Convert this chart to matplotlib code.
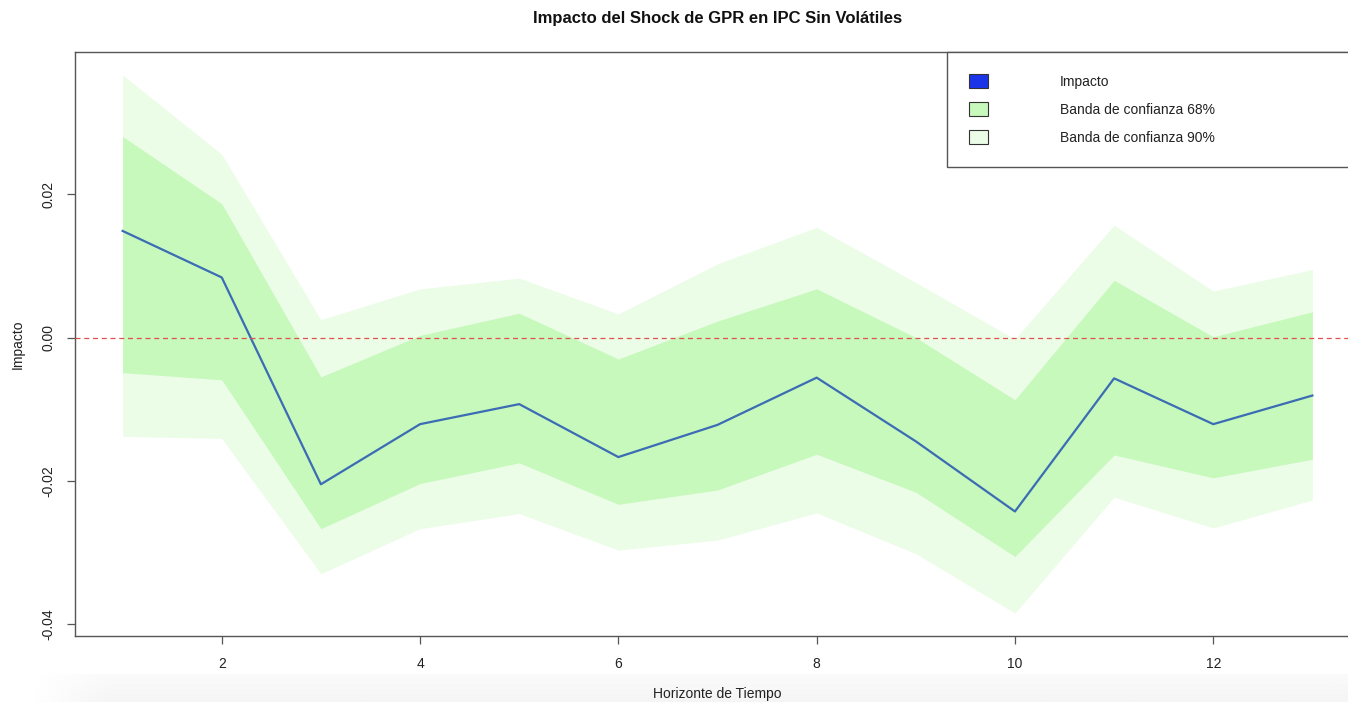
import matplotlib
matplotlib.use("Agg")
import matplotlib.pyplot as plt
import numpy as np
from matplotlib.patches import Patch
from matplotlib.ticker import FormatStrFormatter

plt.rcParams['font.family'] = ['Liberation Sans', 'DejaVu Sans']

# ---- data ----
horizonte = [1, 2, 3, 4, 5, 6, 7, 8, 9, 10, 11, 12, 13]
impacto = [0.0149, 0.0084, -0.0205, -0.0121, -0.0093, -0.0167, -0.0122,
           -0.0056, -0.0145, -0.0243, -0.0057, -0.0121, -0.0081]
sup68 = [0.0281, 0.0187, -0.0055, 0.0003, 0.0034, -0.0030, 0.0023,
         0.0068, 0.0000, -0.0087, 0.0080, 0.0001, 0.0036]
inf68 = [-0.0049, -0.0059, -0.0267, -0.0204, -0.0175, -0.0233, -0.0213,
         -0.0163, -0.0216, -0.0306, -0.0164, -0.0196, -0.0170]
sup90 = [0.0367, 0.0256, 0.0025, 0.0068, 0.0083, 0.0033, 0.0103,
         0.0154, 0.0077, -0.0002, 0.0157, 0.0065, 0.0095]
inf90 = [-0.0138, -0.0141, -0.0330, -0.0267, -0.0246, -0.0297, -0.0283,
         -0.0245, -0.0302, -0.0385, -0.0223, -0.0266, -0.0227]
xticks = [2, 4, 6, 8, 10, 12]
yticks = [-0.04, -0.02, 0.00, 0.02]
legend_labels = ["Impacto", "Banda de confianza 68%", "Banda de confianza 90%"]

col_line = "#3b6cb4"
col_68 = "#c7f8bc"
col_90 = "#ebfde7"
col_leg_imp = "#1a35e8"
spine_col = "#555555"

W, H = 1348, 702
fig = plt.figure(figsize=(W / 100, H / 100), dpi=100)

# faint grey band at the bottom (screenshot artefact)
bg = fig.add_axes([0, 0, 1, 28 / H], zorder=-10)
gy = np.linspace(0, 1, 30)[:, None]
gx = np.clip((np.linspace(0, 1, 400)[None, :] - 0.02) / 0.06, 0, 1)
grad = 1 - 0.04 * gx * (0.5 + 0.5 * gy)
bg.imshow(grad, cmap="gray", vmin=0, vmax=1, aspect="auto", origin="upper",
          extent=[0, 1, 0, 1])
bg.axis("off")

ax = fig.add_axes([75 / W, (H - 636) / H, (1360 - 75) / W, 584 / H])

ax.fill_between(horizonte, inf90, sup90, color=col_90, linewidth=0, zorder=1)
ax.fill_between(horizonte, inf68, sup68, color=col_68, linewidth=0, zorder=2)
ax.plot(horizonte, impacto, color=col_line, linewidth=1.6, zorder=3)
ax.axhline(0, color="#e0504f", linewidth=0.9, dashes=(4, 3), zorder=4)

ax.set_xlim(0.52, 13.48)
ax.set_ylim(-0.0417, 0.0399)
ax.set_xticks(xticks)
ax.set_yticks(yticks)
ax.yaxis.set_major_formatter(FormatStrFormatter('%.2f'))
ax.tick_params(axis="both", direction="out", length=6, width=0.9,
               color=spine_col, labelsize=10, labelcolor="#222222")
ax.tick_params(axis="x", pad=9)
ax.tick_params(axis="y", pad=8)
for lab in ax.get_yticklabels():
    lab.set_rotation(90)
    lab.set_va("center")
for s in ax.spines.values():
    s.set_color(spine_col)
    s.set_linewidth(1.0)

ax.set_title("Impacto del Shock de GPR en IPC Sin Volátiles", fontsize=12,
             fontweight="bold", y=1 + (52 - 19) / 584, va="center", pad=0,
             color="#111111")
ax.set_ylabel("Impacto", fontsize=10, va="center", color="#222222")
ax.yaxis.set_label_coords((18 - 75) / 1285, 0.5)
ax.set_xlabel("Horizonte de Tiempo", fontsize=10, va="center", color="#222222")
ax.xaxis.set_label_coords(0.5, (636 - 694) / 584)

handles = [Patch(facecolor=col_leg_imp, edgecolor="#333333", linewidth=0.8),
           Patch(facecolor=col_68, edgecolor="#333333", linewidth=0.8),
           Patch(facecolor=col_90, edgecolor="#333333", linewidth=0.8)]
x0 = (947 - 75) / 1285
hgt = (165 - 52) / 584
leg = ax.legend(handles, legend_labels, loc="upper left",
                bbox_to_anchor=(x0, 1 - hgt, 1 - x0, hgt), mode="expand",
                borderaxespad=0, fontsize=10, handlelength=1.35,
                handleheight=1.2, handletextpad=5.2, labelspacing=0.95,
                borderpad=1.6, fancybox=False, framealpha=1,
                edgecolor=spine_col)
leg.get_frame().set_linewidth(1.0)
for t in leg.get_texts():
    t.set_color("#222222")

fig.savefig("out.png", dpi=100)
